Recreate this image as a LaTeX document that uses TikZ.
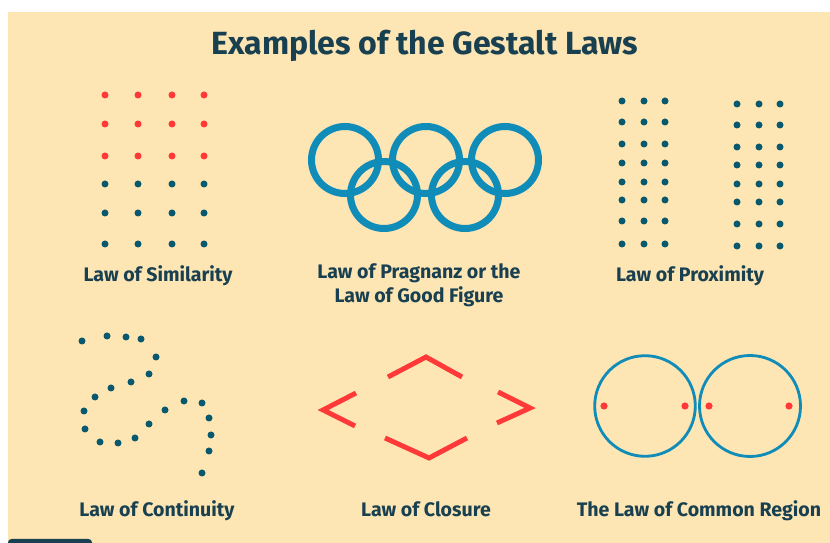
\documentclass[tikz,border=0pt]{standalone}
\usepackage{fontspec}
\setmainfont{Fira Sans}
\definecolor{paper}{RGB}{253, 229, 180}
\definecolor{inkteal}{RGB}{24, 64, 80}
\definecolor{dotred}{RGB}{255, 56, 56}
\definecolor{dotteal}{RGB}{8, 88, 110}
\definecolor{ringblue}{RGB}{16, 140, 185}
\usetikzlibrary{positioning}

\begin{document}
\begin{tikzpicture}[x=0.03cm, y=-0.03cm,
    lawlabel/.style={text=inkteal, font=\bfseries\fontsize{16.7}{20.4}\selectfont, align=center, inner sep=0pt, anchor=base},
    reddot/.style={fill=dotred},
    tealdot/.style={fill=dotteal},
    ring/.style={draw=ringblue, line width=6pt},
    chevron/.style={draw=dotred, line width=4.2pt}]
  \useasboundingbox (0,0) rectangle (830,543);
  \fill[white] (0,0) rectangle (830,543);
  \fill[paper] (8,12) rectangle (830,543);
  \fill[inkteal, rounded corners=3pt] (8,539) -- (8,548) -- (92,548) -- (92,539) -- cycle;

  % Title
  \node[text=inkteal, font=\bfseries\fontsize{27.4}{30}\selectfont] (title) at (425,46) {Examples of the Gestalt Laws};

  % Law of Similarity
  \foreach \y [count=\r] in {95,124,156,184,213,244} {
    \foreach \x in {105,138,172,204} {
      \ifnum\r<4
        \fill[reddot] (\x,\y) circle (3.5);
      \else
        \fill[tealdot] (\x,\y) circle (3.5);
      \fi
    }
  }
  \node[lawlabel] (similarity) at (158,282) {Law of Similarity};

  % Law of Pragnanz
  \foreach \cx/\cy [count=\i] in {345/160, 426/160, 505/160, 384/195, 465/195}
    \draw[ring] (\cx,\cy) circle (33.5);
  \node[lawlabel, anchor=center] (pragnanz) at (419,285) {Law of Pragnanz or the\\Law of Good Figure};

  % Law of Proximity
  \foreach \y in {101,122,144,163,182,200,221,244}
    \foreach \x in {622,644,665}
      \fill[tealdot] (\x,\y) circle (3.5);
  \foreach \y in {104,125,147,165,184,202,224,246}
    \foreach \x in {737,759,780}
      \fill[tealdot] (\x,\y) circle (3.5);
  \node[lawlabel] (proximity) at (690,282) {Law of Proximity};

  % Law of Continuity
  \foreach \x/\y in {82/341, 107/336, 126/337, 141/339, 156/357, 149/374, 131/382,
      111/388, 95/397, 84/411, 85/429, 100/442, 118/443, 135/438, 149/424,
      165/410, 184/401, 202/403, 209/418, 211/435, 209/451, 202/473}
    \fill[tealdot] (\x,\y) circle (3.5);
  \node[lawlabel] (continuity) at (157,517) {Law of Continuity};

  % Law of Closure
  \draw[chevron] (388,377) -- (426,357) -- (462,377);
  \draw[chevron] (356,393) -- (323,410) -- (355,426);
  \draw[chevron] (498,392) -- (530,408) -- (497,423);
  \draw[chevron] (385,438) -- (429,458) -- (467,438);
  \node[lawlabel] (closure) at (426,517) {Law of Closure};

  % The Law of Common Region
  \draw[ringblue, line width=2.4pt] (645,406) circle (50.3);
  \draw[ringblue, line width=2.4pt] (750,406) circle (50.5);
  \foreach \x in {604,685,709,789}
    \fill[reddot] (\x,406) circle (3.6);
  \node[lawlabel] (region) at (699,517) {The Law of Common Region};
\end{tikzpicture}
\end{document}
